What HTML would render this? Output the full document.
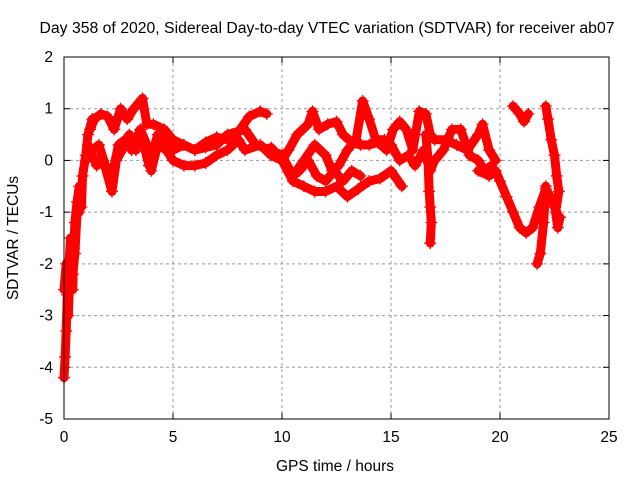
<!DOCTYPE html>
<html><head><meta charset="utf-8"><style>
body{margin:0;background:#fff}
svg text{font-family:"Liberation Sans",sans-serif;font-size:15.5px;fill:#000}
</style></head><body>
<svg id="chart" width="640" height="480" viewBox="0 0 640 480" xmlns="http://www.w3.org/2000/svg">
<text x="327" y="33" text-anchor="middle" textLength="575" lengthAdjust="spacingAndGlyphs">Day 358 of 2020, Sidereal Day-to-day VTEC variation (SDTVAR) for receiver ab07</text>
<g id="grid"></g>
<g id="ticks"></g>
<g id="series"></g>
<rect x="64" y="57" width="545" height="362" fill="none" stroke="#000" stroke-width="1"/>
<text x="335" y="471" text-anchor="middle">GPS time / hours</text>
<text transform="translate(18,238) rotate(-90)" text-anchor="middle">SDTVAR / TECUs</text>
</svg>
<script>
const xTicks=[0,5,10,15,20,25];
const yTicks=[2,1,0,-1,-2,-3,-4,-5];
const t1=[[0,-4.2],[0.05,-3.8],[0.1,-3.3],[0.15,-2.6],[0.2,-3.0],[0.25,-2.4],[0.3,-2.0],[0.4,-2.5],[0.45,-1.7],[0.5,-1.2],[0.6,-0.8],[0.7,-0.5],[0.8,-0.9],[0.85,-0.3],[1.0,0.1],[1.1,0.5],[1.3,0.8]];
const t1b=[[0,-2.5],[0.1,-2.0],[0.2,-2.2],[0.3,-1.5],[0.4,-2.2],[0.5,-1.8],[0.6,-1.0],[0.7,-1.0]];
const t2=[[1.2,0.6],[1.4,0.8],[1.7,0.9],[2.0,0.85],[2.3,0.6],[2.6,1.0],[2.9,0.8],[3.2,1.0],[3.6,1.2],[3.8,0.7],[4.1,0.7],[4.6,0.6],[5.0,0.4],[5.5,0.3],[6,0.2],[6.5,0.35],[7,0.45],[7.5,0.4],[8,0.55],[8.5,0.85],[9,0.95],[9.3,0.9]];
const t3=[[1.0,0.0],[1.3,0.2],[1.6,0.3],[1.9,-0.1],[2.2,-0.3],[2.5,0.3],[2.8,0.4],[3.1,0.2],[3.5,0.6],[3.8,0.3],[4.0,-0.2],[4.3,0.3],[4.7,0.2],[5.0,0.0],[5.5,-0.1],[6.0,-0.1],[6.5,-0.05],[7.0,0.1],[7.5,0.2],[8.0,0.4],[8.3,0.2],[9.0,0.3],[9.5,0.1],[10,0.0],[10.5,-0.4],[11,-0.5],[11.5,-0.6],[12,-0.6],[12.5,-0.5],[13,-0.7],[13.5,-0.55],[14,-0.4],[14.5,-0.35],[15,-0.2],[15.5,-0.5]];
const t4=[[1.1,0.3],[1.5,-0.1],[1.8,0.0],[2.2,-0.6],[2.4,0.0],[2.8,0.3],[3.0,0.5],[3.3,0.2],[3.6,0.4],[3.9,-0.1],[4.3,0.5],[5.0,0.2],[5.5,0.3],[6,0.2],[6.5,0.25],[7,0.3],[7.5,0.5],[8.3,0.6],[8.8,0.3],[9.5,0.2],[10,0.1],[10.5,-0.3],[10.8,-0.2],[11.2,0.0],[11.6,-0.3],[12,-0.4],[12.4,-0.2],[12.8,-0.4],[13.2,-0.2],[13.6,-0.3]];
const t5=[[9.5,0.25],[10,0.0],[10.3,0.2],[10.7,0.5],[11.2,0.7],[11.4,0.95],[11.7,0.6],[12.1,0.7],[12.5,0.75],[12.8,0.5],[13.2,0.35],[13.6,0.3],[14.0,0.3],[14.4,0.35],[14.8,0.2],[15.1,0.6],[15.4,0.75],[15.7,0.6],[16.0,0.2],[16.3,0.95],[16.6,0.9],[16.8,0.5],[17.0,0.4],[17.5,0.4],[18.0,0.3],[18.5,0.2],[19.0,0.5],[19.2,0.7],[19.5,0.2],[19.8,0.0]];
const t6=[[10.5,-0.3],[11,0.0],[11.5,0.3],[12,0.1],[12.3,-0.2],[12.6,-0.1],[13,0.2],[13.4,0.4],[13.7,1.15],[14.0,0.8],[14.3,0.4],[14.7,0.4],[15,0.3],[15.4,0.0],[15.8,0.1],[16.1,-0.1],[16.5,0.2],[16.8,-0.2],[17.0,0.0],[17.4,0.2],[17.8,0.6],[18.2,0.6],[18.6,0.1],[19,0.0],[19.3,-0.2],[19.6,-0.1]];
const t7=[[16.6,0.5],[16.7,0.0],[16.75,-0.6],[16.8,-0.9],[16.85,-1.2],[16.8,-1.6]];
const t8=[[19.0,-0.2],[19.5,-0.3],[19.8,-0.2],[20.0,-0.4],[20.3,-0.7],[20.6,-1.0],[20.9,-1.3],[21.2,-1.4],[21.5,-1.3],[21.8,-0.9],[22.1,-0.55],[22.3,-0.7],[22.5,-0.9],[22.7,-1.1]];
const t9=[[21.7,-2.0],[21.85,-1.8],[22.0,-1.2],[22.1,-0.5]];
const t10=[[20.6,1.05],[20.9,0.9],[21.1,0.75],[21.3,0.9]];
const t11=[[22.1,1.05],[22.2,0.8],[22.35,0.4],[22.5,0.1],[22.6,-0.3],[22.7,-0.6],[22.55,-1.0],[22.65,-1.3],[22.75,-1.1]];
const traces=[t1,t1b,t2,t3,t4,t5,t6,t7,t8,t9,t10,t11];

const NS="http://www.w3.org/2000/svg";
const X0=64,X1=609,Y0=419,Y1=57;
function sx(h){return X0+(h-0)/(25-0)*(X1-X0);}
function sy(v){return Y0-(v+5)/(2+5)*(Y0-Y1);}
function mk(tag,attrs,parent){const e=document.createElementNS(NS,tag);for(const k in attrs)e.setAttribute(k,attrs[k]);parent.appendChild(e);return e;}
const grid=document.getElementById('grid'),ticks=document.getElementById('ticks'),series=document.getElementById('series');
xTicks.forEach(t=>{
  const x=sx(t);
  if(t>0&&t<25){const g=mk('line',{x1:x,x2:x,y1:Y1,y2:Y0,stroke:'#999','stroke-dasharray':'3,3','stroke-width':1},grid);
  
  }
  mk('line',{x1:x,x2:x,y1:Y0,y2:Y0-6,stroke:'#000'},ticks);
  mk('line',{x1:x,x2:x,y1:Y1,y2:Y1+6,stroke:'#000'},ticks);
  const tx=mk('text',{x:x,y:Y0+23,'text-anchor':'middle'},ticks);tx.textContent=t;
  
  
});
yTicks.forEach(t=>{
  const y=sy(t);
  if(t<2&&t>-5){const g=mk('line',{x1:X0,x2:X1,y1:y,y2:y,stroke:'#999','stroke-dasharray':'3,3','stroke-width':1},grid);
  
  }
  mk('line',{x1:X0,x2:X0+6,y1:y,y2:y,stroke:'#000'},ticks);
  mk('line',{x1:X1,x2:X1-6,y1:y,y2:y,stroke:'#000'},ticks);
  const tx=mk('text',{x:X0-11,y:y+5,'text-anchor':'end'},ticks);tx.textContent=t;
  
  
});
traces.forEach((tr,i)=>{
  const pts=tr.map(p=>sx(p[0])+','+sy(p[1])).join(' ');
  const pl=mk('polyline',{points:pts,fill:'none',stroke:'#f00','stroke-width':9,'stroke-linejoin':'round','stroke-linecap':'round'},series);
  
  
  tr.forEach(p=>{
    const x=sx(p[0]),y=sy(p[1]);
    const m=mk('path',{d:`M${x-6},${y}H${x+6}M${x},${y-6}V${y+6}`,stroke:'#f00','stroke-width':1.3},series);
    
    
  });
});
</script>
</body></html>
